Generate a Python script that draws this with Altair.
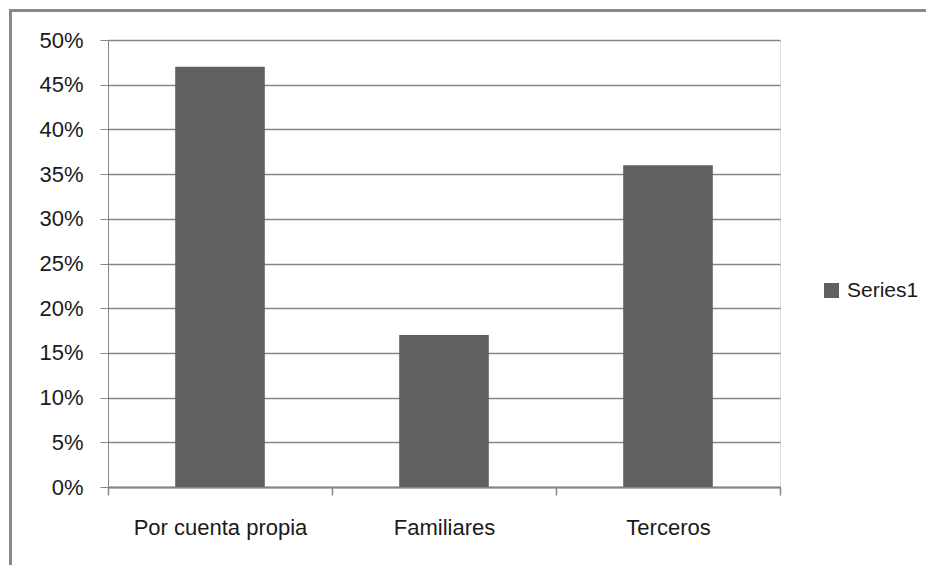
import altair as alt
import pandas as pd

categories = ["Por cuenta propia", "Familiares", "Terceros"]
values = [0.47, 0.17, 0.36]
series = ["Series1", "Series1", "Series1"]
y_ticks = [0.0, 0.05, 0.10, 0.15, 0.20, 0.25, 0.30, 0.35, 0.40, 0.45, 0.50]

df = pd.DataFrame({"cat": categories, "val": values, "series": series})

FONT = "Liberation Sans"
GRID = "#868686"
BAR = "#606060"
TXT = "#1a1a1a"

bars = alt.Chart(df).mark_bar(width=alt.RelativeBandSize(0.4), color=BAR).encode(
    x=alt.X("cat:N", sort=categories, title=None,
            scale=alt.Scale(paddingInner=0, paddingOuter=0),
            axis=alt.Axis(labelAngle=0, tickBand="extent", grid=False,
                          domainColor=GRID, tickColor=GRID, tickSize=8,
                          labelPadding=22, labelFontSize=22, labelFont=FONT,
                          labelColor=TXT, domainWidth=2, tickWidth=1.5,
                          labelOverlap=False)),
    y=alt.Y("val:Q", title=None,
            scale=alt.Scale(domain=[0, 0.5]),
            axis=alt.Axis(format=".0%", values=y_ticks,
                          grid=True, gridColor=GRID, gridWidth=1.5,
                          domainColor=GRID, tickColor=GRID, tickSize=8,
                          labelPadding=17, labelFontSize=22, labelFont=FONT,
                          labelColor=TXT, labelOverlap=False)),
    fill=alt.Fill("series:N", scale=alt.Scale(range=[BAR]),
                  legend=alt.Legend(title=None, orient="none", legendX=713, legendY=240,
                                    symbolType="square", symbolSize=225,
                                    symbolStrokeWidth=0, labelFontSize=21,
                                    labelFont=FONT, labelColor=TXT,
                                    labelOffset=5)),
)

top_line = alt.Chart(df).mark_rule(color="#888888", strokeWidth=3).encode(
    x=alt.value(-98), x2=alt.value(840), y=alt.value(-29.5)
)
left_line = alt.Chart(df).mark_rule(color="#888888", strokeWidth=3).encode(
    x=alt.value(-97.5), y=alt.value(-31), y2=alt.value(540)
)

chart = alt.layer(bars, top_line, left_line).properties(
    width=672, height=447,
    autosize=alt.AutoSizeParams(type="none"),
    padding={"left": 100, "top": 32, "right": 146, "bottom": 80},
).configure_view(stroke=None).configure(background="white")

chart.save("out.html", embed_options={"renderer": "svg", "actions": False})
